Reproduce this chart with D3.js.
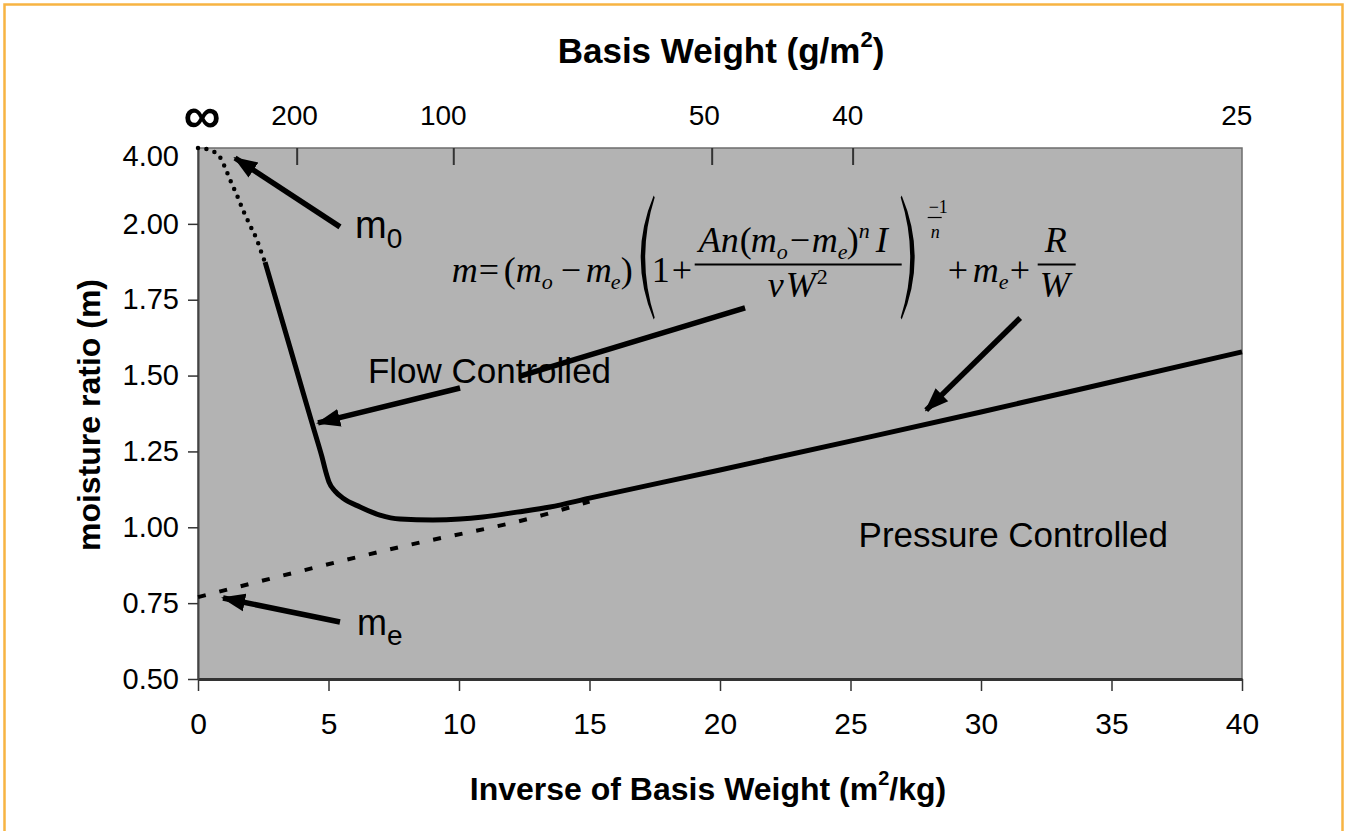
<!DOCTYPE html>
<html>
<head>
<meta charset="utf-8">
<script src="https://cdn.jsdelivr.net/npm/d3@7/dist/d3.min.js"></script>
<style>
  body { margin: 0; background: #fff; }
  svg text { font-family: "Liberation Sans", Arial, sans-serif; fill: #000; }
  .eq text { font-family: "Liberation Serif", "Times New Roman", serif; }
  .title { font-weight: bold; text-anchor: middle; }
  .tick text { font-family: "Liberation Sans", Arial, sans-serif; fill: #000; }
</style>
</head>
<body>
<svg id="chart" width="1346" height="831"></svg>
<script>
// DATA
// bottom axis: inverse of basis weight (m2/kg)
const xTicks = [0, 5, 10, 15, 20, 25, 30, 35, 40];
// left axis is broken: the top tick (plotted at 2.25) reads 4.00
const yTicks = [0.5, 0.75, 1.0, 1.25, 1.5, 1.75, 2.0, 2.25];
const yTickLabels = ["0.50", "0.75", "1.00", "1.25", "1.50", "1.75", "2.00", "4.00"];
// top axis: basis weight (g/m2), placed as in the figure
const topTickPos = [3.8, 9.8, 19.7, 25.1];
const topLabelPos = [0.15, 3.7, 9.4, 19.4, 24.9, 39.8];
const topLabels = ["\u221E", "200", "100", "50", "40", "25"];

// dotted start of the curve (near m0)
const dottedX = [0, 0.46, 0.84, 1.03, 1.23, 1.49, 1.72, 1.99, 2.26, 2.49, 2.57];
const dottedY = [2.25, 2.243, 2.220, 2.187, 2.145, 2.095, 2.046, 1.996, 1.947, 1.891, 1.874];

// solid model curve
const solidX = [2.57, 3.52, 4.02, 4.48, 4.75, 4.90, 5.02, 5.25, 5.56, 6.21, 6.97, 7.74, 9.0, 10.04, 10.92, 12.22, 13.49, 15, 20, 25, 30, 35, 40];
const solidY = [1.874, 1.594, 1.446, 1.311, 1.232, 1.182, 1.149, 1.119, 1.096, 1.067, 1.040, 1.027, 1.024, 1.027, 1.034, 1.050, 1.067, 1.096, 1.189, 1.284, 1.380, 1.479, 1.578];

// dashed asymptote (me + R/W)
const dashX = [0, 7.74, 13.2, 15];
const dashY = [0.77, 0.935, 1.04, 1.085];

// SETUP
const svg = d3.select("#chart");
const plot = { left: 198, right: 1242, top: 148, bottom: 679 };

const x = d3.scaleLinear().domain([0, 40]).range([plot.left, plot.right]);
const y = d3.scaleLinear().domain([0.5, 2.25]).range([plot.bottom, plot.top]);

// orange frame round the figure
svg.append("rect")
  .attr("x", 4.5).attr("y", 4.5)
  .attr("width", 1338).attr("height", 860)
  .attr("fill", "none")
  .attr("stroke", "#f7b443")
  .attr("stroke-width", 2.5);

// 1: PLOT AREA
svg.append("rect")
  .attr("x", plot.left).attr("y", plot.top)
  .attr("width", plot.right - plot.left)
  .attr("height", plot.bottom - plot.top)
  .attr("fill", "#b3b3b3")
  .attr("stroke", "#6e6e6e")
  .attr("stroke-width", 1.5);

// 2: AXES
// bottom
const xAxis = svg.append("g")
  .attr("transform", `translate(0,${plot.bottom})`)
  .call(d3.axisBottom(x).tickValues(xTicks).tickSize(12).tickPadding(22).tickSizeOuter(0));
xAxis.select(".domain").attr("stroke", "#333").attr("stroke-width", 3);
xAxis.selectAll(".tick line").attr("stroke", "#333").attr("stroke-width", 1.5);
xAxis.selectAll(".tick text").attr("font-size", 30);

// left
const yAxis = svg.append("g")
  .attr("transform", `translate(${plot.left},0)`)
  .call(d3.axisLeft(y).tickValues(yTicks).tickSize(10).tickPadding(9).tickSizeOuter(0)
    .tickFormat((d, i) => yTickLabels[i]));
yAxis.select(".domain").attr("stroke", "#444").attr("stroke-width", 2);
yAxis.selectAll(".tick line").attr("stroke", "#333").attr("stroke-width", 1.5)
  .filter(d => d === 2.25).remove();
yAxis.selectAll(".tick text").attr("font-size", 29)
  .filter(d => d === 2.25).attr("dy", "0.6em");

// top: basis weight, ticks point inward
svg.append("g").selectAll("line")
  .data(topTickPos)
  .enter()
  .append("line")
  .attr("x1", d => x(d)).attr("x2", d => x(d))
  .attr("y1", plot.top).attr("y2", plot.top + 17)
  .attr("stroke", "#333")
  .attr("stroke-width", 2);

svg.append("g").selectAll("text")
  .data(topLabels)
  .enter()
  .append("text")
  .attr("x", (d, i) => x(topLabelPos[i]))
  .attr("y", d => d === "\u221E" ? 133 : 125)
  .attr("text-anchor", "middle")
  .attr("font-size", d => d === "\u221E" ? 52 : 28)
  .attr("font-weight", d => d === "\u221E" ? "bold" : "normal")
  .text(d => d);

// 3: AXIS TITLES
const topTitle = svg.append("text")
  .attr("class", "title")
  .attr("x", 721).attr("y", 63)
  .attr("font-size", 35);
topTitle.append("tspan").text("Basis Weight (g/m");
topTitle.append("tspan").attr("font-size", 22).attr("dy", -16).text("2");
topTitle.append("tspan").attr("dy", 16).text(")");

const bottomTitle = svg.append("text")
  .attr("class", "title")
  .attr("x", 708).attr("y", 800)
  .attr("font-size", 32);
bottomTitle.append("tspan").text("Inverse of Basis Weight (m");
bottomTitle.append("tspan").attr("font-size", 20).attr("dy", -15).text("2");
bottomTitle.append("tspan").attr("dy", 15).text("/kg)");

svg.append("text")
  .attr("class", "title")
  .attr("transform", "translate(100,415) rotate(-90)")
  .attr("font-size", 32)
  .text("moisture ratio (m)");

// 4: CURVES
const line = d3.line()
  .x(d => x(d[0]))
  .y(d => y(d[1]))
  .curve(d3.curveMonotoneX);

svg.append("path")
  .datum(dashX.map((v, i) => [v, dashY[i]]))
  .attr("d", line)
  .attr("fill", "none")
  .attr("stroke", "#000")
  .attr("stroke-width", 4)
  .attr("stroke-dasharray", "8 14");

svg.append("path")
  .datum(dottedX.map((v, i) => [v, dottedY[i]]))
  .attr("d", line)
  .attr("fill", "none")
  .attr("stroke", "#000")
  .attr("stroke-width", 4.5)
  .attr("stroke-linecap", "round")
  .attr("stroke-dasharray", "0 8.5");

svg.append("path")
  .datum(solidX.map((v, i) => [v, solidY[i]]))
  .attr("d", line)
  .attr("fill", "none")
  .attr("stroke", "#000")
  .attr("stroke-width", 5)
  .attr("stroke-linejoin", "round");

// 5: ANNOTATIONS
svg.append("defs").append("marker")
  .attr("id", "head")
  .attr("markerUnits", "userSpaceOnUse")
  .attr("markerWidth", 24).attr("markerHeight", 20)
  .attr("refX", 22).attr("refY", 10)
  .attr("orient", "auto")
  .append("path")
  .attr("d", "M0,1 L24,10 L0,19 Z")
  .attr("fill", "#000");

const arrows = [
  { from: [5.44, 1.99], to: [1.42, 2.217] },   // m0
  { from: [5.44, 0.688], to: [0.96, 0.767] },  // me
  { from: [10.04, 1.459], to: [4.6, 1.344] },  // flow controlled
  { from: [31.5, 1.69], to: [27.9, 1.386] }    // pressure controlled
];

svg.append("g").selectAll("line")
  .data(arrows)
  .enter()
  .append("line")
  .attr("x1", d => x(d.from[0])).attr("y1", d => y(d.from[1]))
  .attr("x2", d => x(d.to[0])).attr("y2", d => y(d.to[1]))
  .attr("stroke", "#000")
  .attr("stroke-width", 5.5)
  .attr("marker-end", "url(#head)");

// connector from the equation down to the flow label
svg.append("line")
  .attr("x1", x(20.96)).attr("y1", y(1.723))
  .attr("x2", x(12.34)).attr("y2", y(1.498))
  .attr("stroke", "#000")
  .attr("stroke-width", 5.5);

svg.append("text")
  .attr("x", x(6.51)).attr("y", y(1.475))
  .attr("font-size", 35)
  .text("Flow Controlled");

svg.append("text")
  .attr("x", x(37.16)).attr("y", y(0.935))
  .attr("text-anchor", "end")
  .attr("font-size", 35)
  .text("Pressure Controlled");

const m0 = svg.append("text").attr("x", x(6.02)).attr("y", y(1.953)).attr("font-size", 38);
m0.append("tspan").text("m");
m0.append("tspan").attr("font-size", 28).attr("dy", 10).text("0");

const me = svg.append("text").attr("x", x(6.09)).attr("y", y(0.645)).attr("font-size", 36);
me.append("tspan").text("m");
me.append("tspan").attr("font-size", 28).attr("dy", 10).text("e");

// 6: EQUATION  m = (mo - me)(1 + An(mo-me)^n I / vW^2)^(-1/n) + me + R/W
const eq = svg.append("g")
  .attr("class", "eq")
  .attr("transform", `translate(${x(9.72)},${y(1.81)})`);

// [dx, dy, text, italic, size]
const N = -30, D = 15;
const eqPieces = [
  [0, 0, "m", 1, 36], [27, 0, "=", 0, 36], [52, 0, "(", 0, 36],
  [64, 0, "m", 1, 36], [90, 7, "o", 1, 22], [109, 0, "\u2212", 0, 36],
  [134, 0, "m", 1, 36], [159, 7, "e", 1, 22], [169, 0, ")", 0, 36],
  [200, 0, "1", 0, 36], [220, 0, "+", 0, 36],
  [247, N, "An", 1, 36], [288, N, "(", 0, 36], [299, N, "m", 1, 36],
  [325, N + 7, "o", 1, 22], [338, N, "\u2212", 0, 36], [360, N, "m", 1, 36],
  [386, N + 7, "e", 1, 22], [395, N, ")", 0, 36], [407, N - 14, "n", 1, 22],
  [424, N, "I", 1, 36],
  [316, D, "\u03BD", 1, 36], [334, D, "W", 1, 36], [365, D - 13, "2", 0, 22],
  [477, -69, "\u22121", 0, 18], [479, -44, "n", 1, 18],
  [496, 0, "+", 0, 36], [521, 0, "m", 1, 36], [547, 7, "e", 1, 22],
  [558, 0, "+", 0, 36], [593, N, "R", 1, 36], [588, D, "W", 1, 36]
];

eq.selectAll("text")
  .data(eqPieces)
  .enter()
  .append("text")
  .attr("x", d => d[0])
  .attr("y", d => d[1])
  .attr("font-size", d => d[4])
  .attr("font-style", d => d[3] ? "italic" : "normal")
  .text(d => d[2]);

// fraction bars
[[243, 450, -17], [476, 490, -64], [586, 624, -17]].forEach(b => {
  eq.append("line")
    .attr("x1", b[0]).attr("x2", b[1])
    .attr("y1", b[2]).attr("y2", b[2])
    .attr("stroke", "#000")
    .attr("stroke-width", b[0] === 476 ? 1.2 : 1.8);
});

// big parentheses
eq.append("path")
  .attr("d", "M202,-86 Q176,-24 202,38 L203,36 Q184,-24 203,-84 Z")
  .attr("fill", "#000");
eq.append("path")
  .attr("d", "M450,-86 Q476,-24 450,38 L449,36 Q468,-24 449,-84 Z")
  .attr("fill", "#000");
</script>
</body>
</html>
